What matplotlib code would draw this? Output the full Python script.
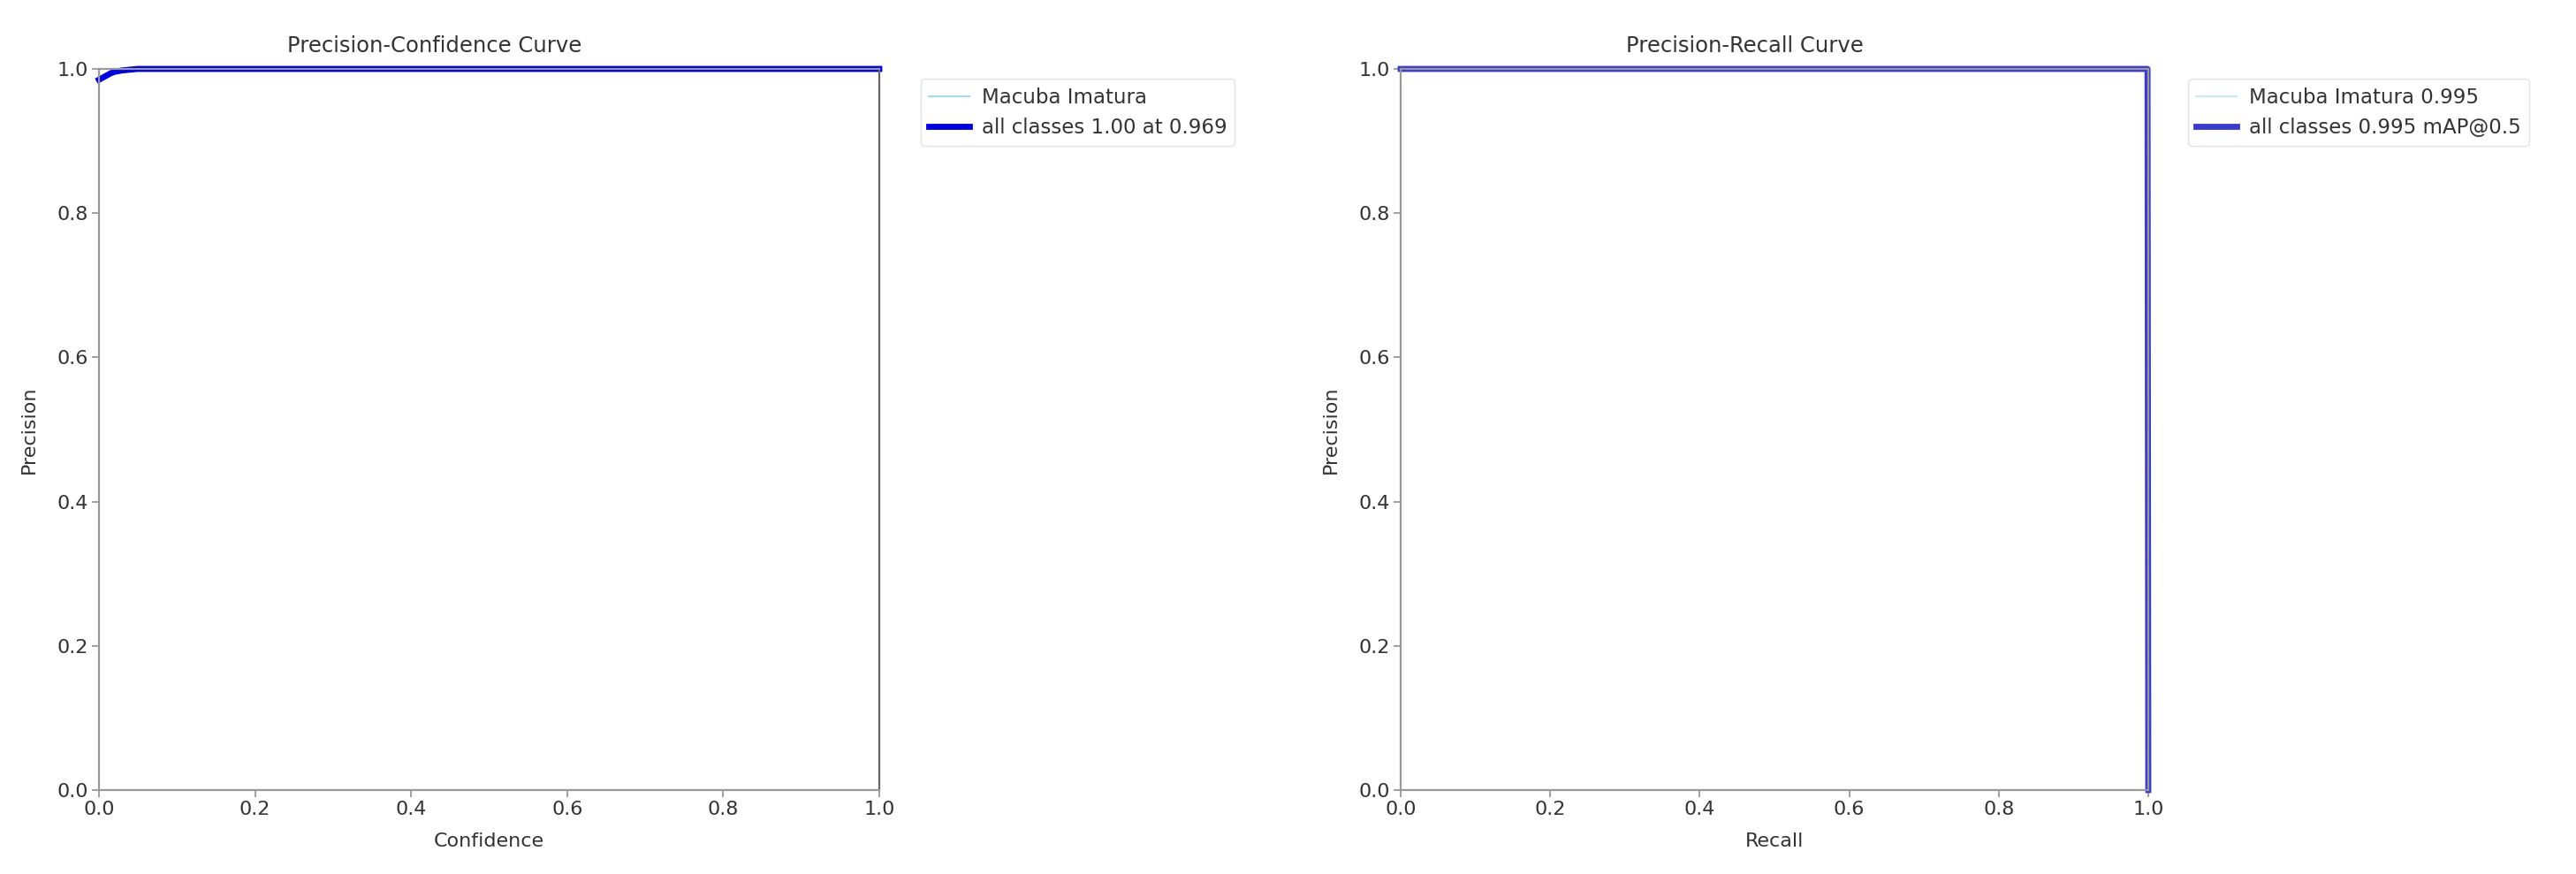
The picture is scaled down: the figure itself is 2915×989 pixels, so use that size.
import numpy as np
import matplotlib
matplotlib.use("Agg")
import matplotlib.pyplot as plt

# precision-confidence curve (one class, so class curve == all classes)
conf = [0.0, 0.005, 0.01, 0.015, 0.02, 0.03, 0.05, 1.0]
prec_conf = [0.985, 0.988, 0.991, 0.994, 0.996, 0.998, 1.0, 1.0]

# precision-recall curve
recall = [0.0, 0.999, 1.0]
prec_rec = [1.0, 1.0, 0.0]

class_name = "Macuba Imatura"
class_ap = 0.995
map50 = 0.995
best_p = 1.00
best_conf = 0.969

ticks = [0.0, 0.2, 0.4, 0.6, 0.8, 1.0]

plt.rcParams["font.size"] = 16
plt.rcParams["text.color"] = "#333333"
plt.rcParams["axes.labelcolor"] = "#333333"
plt.rcParams["xtick.color"] = "#999999"
plt.rcParams["ytick.color"] = "#999999"
plt.rcParams["xtick.labelcolor"] = "#333333"
plt.rcParams["ytick.labelcolor"] = "#333333"

fig = plt.figure(figsize=(29.15, 9.89), dpi=100)
W, H = 2915, 989
def box(x0, x1, y0, y1):
    return [x0 / W, 1 - y1 / H, (x1 - x0) / W, (y1 - y0) / H]

ax1 = fig.add_axes(box(112, 995, 78, 894))
ax2 = fig.add_axes(box(1585, 2431, 78, 894))

ax1.plot(conf, prec_conf, lw=1.6, color="#a8d8ea", label=class_name)
ax1.plot(conf, prec_conf, lw=4.9, color="#0000dd", clip_on=False,
         label=f"all classes {best_p:.2f} at {best_conf:.3f}")
ax1.set_xlabel("Confidence", labelpad=11)
ax1.set_ylabel("Precision", labelpad=15)
ax1.set_title("Precision-Confidence Curve", fontsize=17.5, pad=14, x=0.43)
ax1.spines["right"].set_color("#666666")

ax2.plot(recall, prec_rec, lw=1.6, color="#c8e8f4", label=f"{class_name} {class_ap:.3f}")
ax2.plot(recall, prec_rec, lw=4.9, color="#3a3acc", clip_on=False,
         label=f"all classes {map50:.3f} mAP@0.5")
ax2.set_xlabel("Recall", labelpad=11)
ax2.set_ylabel("Precision", labelpad=15)
ax2.set_title("Precision-Recall Curve", fontsize=17.5, pad=14, x=0.46)

for ax in (ax1, ax2):
    ax.set_xlim(0, 1)
    ax.set_ylim(0, 1)
    ax.set_xticks(ticks)
    ax.set_yticks(ticks)
    ax.tick_params(length=5.5, width=1.3, labelsize=16)
    for s in ax.spines.values():
        s.set_linewidth(1.6)
    leg = ax.legend(bbox_to_anchor=(1.04, 1), loc="upper left", fontsize=16.5,
                    handlelength=2.0, handletextpad=0.6)
    leg.get_frame().set_edgecolor("#dddddd")

for name in ("left", "top", "bottom"):
    ax1.spines[name].set_color("#999999")
    ax2.spines[name].set_color("#999999")
ax2.spines["right"].set_color("#999999")

fig.savefig("out.png", dpi=100)
